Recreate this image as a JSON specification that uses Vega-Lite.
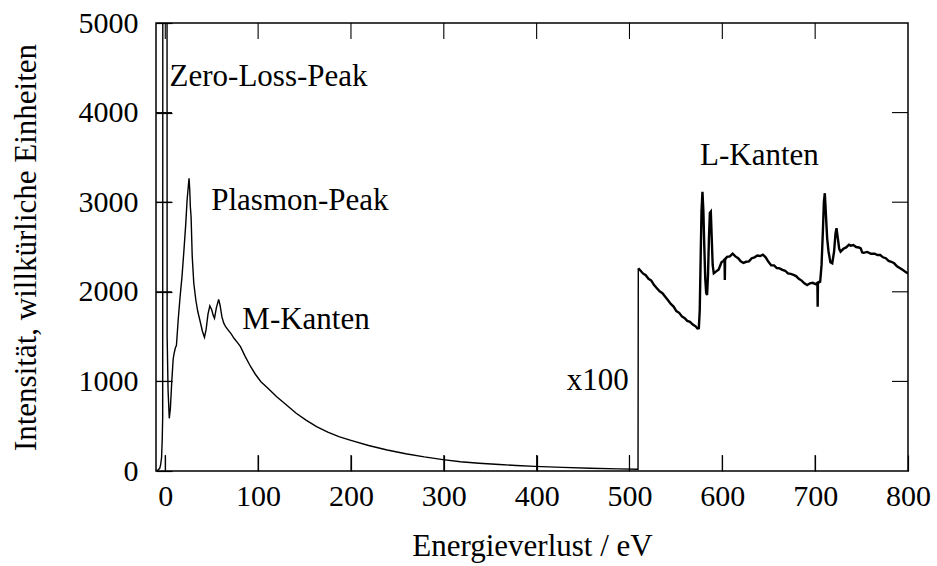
{
  "$schema": "https://vega.github.io/schema/vega-lite/v6.json",
  "autosize": {"type": "none"},
  "padding": {"left": 156, "top": 23, "right": 29, "bottom": 95},
  "width": 752,
  "height": 448,
  "background": "white",
  "config": {
    "view": {"stroke": "black", "strokeWidth": 1.5},
    "font": "Liberation Serif",
    "axis": {
      "grid": false,
      "domain": false,
      "labelFlush": false,
      "labelOverlap": false,
      "labelColor": "black",
      "labelFont": "Liberation Serif",
      "labelFontSize": 30,
      "titleFont": "Liberation Serif",
      "titleFontSize": 31,
      "titleFontWeight": "normal",
      "titleColor": "black"
    }
  },
  "datasets": {
    "spectrum": [
      {"e": -10, "i": 3, "part": "low"},
      {"e": -8, "i": 10, "part": "low"},
      {"e": -6, "i": 30, "part": "low"},
      {"e": -5, "i": 70, "part": "low"},
      {"e": -4, "i": 150, "part": "low"},
      {"e": -3.3, "i": 350, "part": "low"},
      {"e": -2.8, "i": 600, "part": "low"},
      {"e": -0.5, "i": 80000, "part": "low"},
      {"e": 2.0, "i": 1500, "part": "low"},
      {"e": 3.0, "i": 900, "part": "low"},
      {"e": 4.3, "i": 588, "part": "low"},
      {"e": 5.5, "i": 700, "part": "low"},
      {"e": 7, "i": 1000, "part": "low"},
      {"e": 8.5, "i": 1250, "part": "low"},
      {"e": 9.5, "i": 1313, "part": "low"},
      {"e": 11, "i": 1380, "part": "low"},
      {"e": 12, "i": 1400, "part": "low"},
      {"e": 14, "i": 1700, "part": "low"},
      {"e": 16, "i": 1950, "part": "low"},
      {"e": 18, "i": 2169, "part": "low"},
      {"e": 20, "i": 2450, "part": "low"},
      {"e": 22, "i": 2750, "part": "low"},
      {"e": 23.5, "i": 3025, "part": "low"},
      {"e": 25, "i": 3200, "part": "low"},
      {"e": 25.6, "i": 3266, "part": "low"},
      {"e": 26.3, "i": 3150, "part": "low"},
      {"e": 27, "i": 2950, "part": "low"},
      {"e": 27.8, "i": 2838, "part": "low"},
      {"e": 29, "i": 2400, "part": "low"},
      {"e": 30.7, "i": 2095, "part": "low"},
      {"e": 33, "i": 1900, "part": "low"},
      {"e": 35, "i": 1780, "part": "low"},
      {"e": 37.2, "i": 1685, "part": "low"},
      {"e": 40, "i": 1560, "part": "low"},
      {"e": 42.2, "i": 1492, "part": "low"},
      {"e": 44, "i": 1580, "part": "low"},
      {"e": 46, "i": 1750, "part": "low"},
      {"e": 48, "i": 1842, "part": "low"},
      {"e": 50, "i": 1800, "part": "low"},
      {"e": 51.5, "i": 1740, "part": "low"},
      {"e": 53, "i": 1704, "part": "low"},
      {"e": 55, "i": 1820, "part": "low"},
      {"e": 57.5, "i": 1916, "part": "low"},
      {"e": 59, "i": 1850, "part": "low"},
      {"e": 61, "i": 1720, "part": "low"},
      {"e": 63, "i": 1650, "part": "low"},
      {"e": 65, "i": 1610, "part": "low"},
      {"e": 68, "i": 1570, "part": "low"},
      {"e": 71, "i": 1530, "part": "low"},
      {"e": 74, "i": 1481, "part": "low"},
      {"e": 78, "i": 1430, "part": "low"},
      {"e": 81, "i": 1388, "part": "low"},
      {"e": 86, "i": 1280, "part": "low"},
      {"e": 92, "i": 1164, "part": "low"},
      {"e": 97, "i": 1080, "part": "low"},
      {"e": 103, "i": 997, "part": "low"},
      {"e": 110, "i": 930, "part": "low"},
      {"e": 120, "i": 829, "part": "low"},
      {"e": 129, "i": 750, "part": "low"},
      {"e": 141, "i": 644, "part": "low"},
      {"e": 152, "i": 565, "part": "low"},
      {"e": 163, "i": 495, "part": "low"},
      {"e": 175, "i": 435, "part": "low"},
      {"e": 187, "i": 383, "part": "low"},
      {"e": 199, "i": 345, "part": "low"},
      {"e": 219, "i": 285, "part": "low"},
      {"e": 239, "i": 235, "part": "low"},
      {"e": 259, "i": 192, "part": "low"},
      {"e": 279, "i": 157, "part": "low"},
      {"e": 299, "i": 127, "part": "low"},
      {"e": 318, "i": 104, "part": "low"},
      {"e": 338, "i": 87, "part": "low"},
      {"e": 360, "i": 72, "part": "low"},
      {"e": 378, "i": 61, "part": "low"},
      {"e": 398, "i": 52, "part": "low"},
      {"e": 428, "i": 40, "part": "low"},
      {"e": 458, "i": 31, "part": "low"},
      {"e": 488, "i": 24, "part": "low"},
      {"e": 509.2, "i": 20, "part": "low"},
      {"e": 509.5, "i": 2262, "part": "low"},
      {"e": 509.5, "i": 2262, "part": "x100"},
      {"e": 511.5, "i": 2240, "part": "x100"},
      {"e": 514.5, "i": 2205, "part": "x100"},
      {"e": 517.5, "i": 2185, "part": "x100"},
      {"e": 520.5, "i": 2145, "part": "x100"},
      {"e": 523.5, "i": 2125, "part": "x100"},
      {"e": 526.5, "i": 2075, "part": "x100"},
      {"e": 529.5, "i": 2040, "part": "x100"},
      {"e": 532.5, "i": 2005, "part": "x100"},
      {"e": 535.5, "i": 1985, "part": "x100"},
      {"e": 538.5, "i": 1945, "part": "x100"},
      {"e": 541.5, "i": 1905, "part": "x100"},
      {"e": 544.5, "i": 1865, "part": "x100"},
      {"e": 547.5, "i": 1835, "part": "x100"},
      {"e": 550.5, "i": 1785, "part": "x100"},
      {"e": 553.5, "i": 1765, "part": "x100"},
      {"e": 556.5, "i": 1725, "part": "x100"},
      {"e": 559.5, "i": 1705, "part": "x100"},
      {"e": 562.2, "i": 1675, "part": "x100"},
      {"e": 565.2, "i": 1665, "part": "x100"},
      {"e": 568.2, "i": 1635, "part": "x100"},
      {"e": 571.2, "i": 1615, "part": "x100"},
      {"e": 573.2, "i": 1590, "part": "x100"},
      {"e": 574.7, "i": 1593, "part": "x100"},
      {"e": 575.7, "i": 1800, "part": "x100"},
      {"e": 576.7, "i": 2400, "part": "x100"},
      {"e": 577.6, "i": 2900, "part": "x100"},
      {"e": 578.6, "i": 3117, "part": "x100"},
      {"e": 579.6, "i": 2900, "part": "x100"},
      {"e": 580.6, "i": 2500, "part": "x100"},
      {"e": 581.6, "i": 2150, "part": "x100"},
      {"e": 582.6, "i": 1990, "part": "x100"},
      {"e": 583.6, "i": 1964, "part": "x100"},
      {"e": 584.6, "i": 2200, "part": "x100"},
      {"e": 585.6, "i": 2600, "part": "x100"},
      {"e": 586.6, "i": 2880, "part": "x100"},
      {"e": 587.6, "i": 2894, "part": "x100"},
      {"e": 588.6, "i": 2600, "part": "x100"},
      {"e": 589.6, "i": 2300, "part": "x100"},
      {"e": 590.8, "i": 2206, "part": "x100"},
      {"e": 593.1, "i": 2225, "part": "x100"},
      {"e": 596.1, "i": 2250, "part": "x100"},
      {"e": 599.1, "i": 2330, "part": "x100"},
      {"e": 601.1, "i": 2345, "part": "x100"},
      {"e": 602.4, "i": 2360, "part": "x100"},
      {"e": 602.7, "i": 2132, "part": "x100"},
      {"e": 603.0, "i": 2360, "part": "x100"},
      {"e": 605.1, "i": 2390, "part": "x100"},
      {"e": 608.1, "i": 2395, "part": "x100"},
      {"e": 611.1, "i": 2425, "part": "x100"},
      {"e": 614.1, "i": 2395, "part": "x100"},
      {"e": 617.1, "i": 2375, "part": "x100"},
      {"e": 619.8, "i": 2340, "part": "x100"},
      {"e": 622.7, "i": 2322, "part": "x100"},
      {"e": 625.7, "i": 2335, "part": "x100"},
      {"e": 628.7, "i": 2340, "part": "x100"},
      {"e": 631.7, "i": 2375, "part": "x100"},
      {"e": 634.7, "i": 2385, "part": "x100"},
      {"e": 637.7, "i": 2405, "part": "x100"},
      {"e": 640.7, "i": 2400, "part": "x100"},
      {"e": 643.7, "i": 2415, "part": "x100"},
      {"e": 646.7, "i": 2385, "part": "x100"},
      {"e": 649.7, "i": 2335, "part": "x100"},
      {"e": 652.7, "i": 2295, "part": "x100"},
      {"e": 655.7, "i": 2295, "part": "x100"},
      {"e": 658.7, "i": 2265, "part": "x100"},
      {"e": 661.7, "i": 2262, "part": "x100"},
      {"e": 664.7, "i": 2245, "part": "x100"},
      {"e": 667.7, "i": 2235, "part": "x100"},
      {"e": 670.7, "i": 2205, "part": "x100"},
      {"e": 673.7, "i": 2200, "part": "x100"},
      {"e": 676.7, "i": 2188, "part": "x100"},
      {"e": 679.4, "i": 2175, "part": "x100"},
      {"e": 682.4, "i": 2145, "part": "x100"},
      {"e": 685.4, "i": 2125, "part": "x100"},
      {"e": 688.4, "i": 2095, "part": "x100"},
      {"e": 691.4, "i": 2076, "part": "x100"},
      {"e": 694.4, "i": 2095, "part": "x100"},
      {"e": 697.4, "i": 2100, "part": "x100"},
      {"e": 700.4, "i": 2085, "part": "x100"},
      {"e": 702.4, "i": 2100, "part": "x100"},
      {"e": 702.7, "i": 1834, "part": "x100"},
      {"e": 703.0, "i": 2100, "part": "x100"},
      {"e": 705.4, "i": 2113, "part": "x100"},
      {"e": 706.9, "i": 2300, "part": "x100"},
      {"e": 708.4, "i": 2700, "part": "x100"},
      {"e": 709.4, "i": 3000, "part": "x100"},
      {"e": 710.4, "i": 3100, "part": "x100"},
      {"e": 711.4, "i": 2900, "part": "x100"},
      {"e": 712.9, "i": 2600, "part": "x100"},
      {"e": 714.4, "i": 2450, "part": "x100"},
      {"e": 716.4, "i": 2330, "part": "x100"},
      {"e": 718.4, "i": 2318, "part": "x100"},
      {"e": 720.4, "i": 2450, "part": "x100"},
      {"e": 721.9, "i": 2650, "part": "x100"},
      {"e": 723.0, "i": 2709, "part": "x100"},
      {"e": 724.4, "i": 2600, "part": "x100"},
      {"e": 725.9, "i": 2480, "part": "x100"},
      {"e": 727.4, "i": 2448, "part": "x100"},
      {"e": 730.4, "i": 2480, "part": "x100"},
      {"e": 733.4, "i": 2495, "part": "x100"},
      {"e": 736.4, "i": 2525, "part": "x100"},
      {"e": 738.1, "i": 2515, "part": "x100"},
      {"e": 741.1, "i": 2522, "part": "x100"},
      {"e": 744.1, "i": 2500, "part": "x100"},
      {"e": 747.1, "i": 2495, "part": "x100"},
      {"e": 749.1, "i": 2485, "part": "x100"},
      {"e": 750.6, "i": 2440, "part": "x100"},
      {"e": 752.1, "i": 2435, "part": "x100"},
      {"e": 756.1, "i": 2445, "part": "x100"},
      {"e": 760.1, "i": 2425, "part": "x100"},
      {"e": 764.1, "i": 2425, "part": "x100"},
      {"e": 767.1, "i": 2410, "part": "x100"},
      {"e": 770.1, "i": 2411, "part": "x100"},
      {"e": 773.1, "i": 2385, "part": "x100"},
      {"e": 776.1, "i": 2375, "part": "x100"},
      {"e": 779.1, "i": 2345, "part": "x100"},
      {"e": 782.1, "i": 2335, "part": "x100"},
      {"e": 785.1, "i": 2318, "part": "x100"},
      {"e": 788.1, "i": 2285, "part": "x100"},
      {"e": 791.1, "i": 2265, "part": "x100"},
      {"e": 794.1, "i": 2245, "part": "x100"},
      {"e": 797.1, "i": 2225, "part": "x100"},
      {"e": 800, "i": 2205, "part": "x100"}
    ],
    "notes": [
      {"e": 4.6, "i": 4297, "text": "Zero-Loss-Peak", "side": "left"},
      {"e": 49.5, "i": 2913, "text": "Plasmon-Peak", "side": "left"},
      {"e": 83, "i": 1585, "text": "M-Kanten", "side": "left"},
      {"e": 499.3, "i": 904, "text": "x100", "side": "right"},
      {"e": 640, "i": 3415, "text": "L-Kanten", "side": "center"}
    ],
    "ticks": [
      {"id": "b0", "e": 0, "i": 0}, {"id": "b0", "e": 0, "i": 179},
      {"id": "b100", "e": 100, "i": 0}, {"id": "b100", "e": 100, "i": 179},
      {"id": "b200", "e": 200, "i": 0}, {"id": "b200", "e": 200, "i": 179},
      {"id": "b300", "e": 300, "i": 0}, {"id": "b300", "e": 300, "i": 179},
      {"id": "b400", "e": 400, "i": 0}, {"id": "b400", "e": 400, "i": 179},
      {"id": "b500", "e": 500, "i": 0}, {"id": "b500", "e": 500, "i": 179},
      {"id": "b600", "e": 600, "i": 0}, {"id": "b600", "e": 600, "i": 179},
      {"id": "b700", "e": 700, "i": 0}, {"id": "b700", "e": 700, "i": 179},
      {"id": "t0", "e": 0, "i": 5000}, {"id": "t0", "e": 0, "i": 4821},
      {"id": "t100", "e": 100, "i": 5000}, {"id": "t100", "e": 100, "i": 4821},
      {"id": "t200", "e": 200, "i": 5000}, {"id": "t200", "e": 200, "i": 4821},
      {"id": "t300", "e": 300, "i": 5000}, {"id": "t300", "e": 300, "i": 4821},
      {"id": "t400", "e": 400, "i": 5000}, {"id": "t400", "e": 400, "i": 4821},
      {"id": "t500", "e": 500, "i": 5000}, {"id": "t500", "e": 500, "i": 4821},
      {"id": "t600", "e": 600, "i": 5000}, {"id": "t600", "e": 600, "i": 4821},
      {"id": "t700", "e": 700, "i": 5000}, {"id": "t700", "e": 700, "i": 4821},
      {"id": "l1000", "e": -10, "i": 1000}, {"id": "l1000", "e": 7.2, "i": 1000},
      {"id": "l2000", "e": -10, "i": 2000}, {"id": "l2000", "e": 7.2, "i": 2000},
      {"id": "l3000", "e": -10, "i": 3000}, {"id": "l3000", "e": 7.2, "i": 3000},
      {"id": "l4000", "e": -10, "i": 4000}, {"id": "l4000", "e": 7.2, "i": 4000},
      {"id": "r1000", "e": 782.8, "i": 1000}, {"id": "r1000", "e": 800, "i": 1000},
      {"id": "r2000", "e": 782.8, "i": 2000}, {"id": "r2000", "e": 800, "i": 2000},
      {"id": "r3000", "e": 782.8, "i": 3000}, {"id": "r3000", "e": 800, "i": 3000},
      {"id": "r4000", "e": 782.8, "i": 4000}, {"id": "r4000", "e": 800, "i": 4000}
    ]
  },
  "layer": [
    {
      "data": {"name": "spectrum"},
      "transform": [{"filter": "datum.part === 'low'"}],
      "mark": {"type": "line", "color": "black", "strokeWidth": 1.4, "clip": true},
      "encoding": {
        "x": {
          "field": "e", "type": "quantitative",
          "scale": {"domain": [-10, 800], "nice": false, "zero": false},
          "axis": {"orient": "bottom", "values": [0, 100, 200, 300, 400, 500, 600, 700, 800], "ticks": true, "tickSize": 16, "tickWidth": 1.2, "tickColor": "#000000", "offset": -16, "labelPadding": 10, "title": "Energieverlust / eV", "titlePadding": 20}
        },
        "y": {
          "field": "i", "type": "quantitative",
          "scale": {"domain": [0, 5000], "nice": false},
          "axis": {"orient": "left", "values": [0, 1000, 2000, 3000, 4000, 5000], "format": "d", "ticks": true, "tickSize": 16, "tickWidth": 1.2, "tickColor": "#000000", "offset": -16, "labelPadding": 18, "title": "Intensität, willkürliche Einheiten", "titlePadding": 36}
        },
        "order": {"field": "e", "type": "quantitative"}
      }
    },
    {
      "data": {"name": "spectrum"},
      "transform": [{"filter": "datum.part === 'x100'"}],
      "mark": {"type": "line", "color": "black", "strokeWidth": 2.4, "clip": true},
      "encoding": {
        "x": {"field": "e", "type": "quantitative", "axis": null},
        "y": {"field": "i", "type": "quantitative", "axis": null},
        "order": {"field": "e", "type": "quantitative"}
      }
    },
    {
      "data": {"name": "ticks"},
      "mark": {"type": "line", "color": "black", "strokeWidth": 1.1},
      "encoding": {
        "x": {"field": "e", "type": "quantitative", "axis": null},
        "y": {"field": "i", "type": "quantitative", "axis": null},
        "detail": {"field": "id"},
        "order": {"value": null}
      }
    },
    {
      "data": {"name": "notes"},
      "transform": [{"filter": "datum.side === 'left'"}],
      "mark": {"type": "text", "align": "left", "baseline": "alphabetic", "font": "Liberation Serif", "fontSize": 31, "color": "black"},
      "encoding": {
        "x": {"field": "e", "type": "quantitative", "axis": null},
        "y": {"field": "i", "type": "quantitative", "axis": null},
        "text": {"field": "text"}
      }
    },
    {
      "data": {"name": "notes"},
      "transform": [{"filter": "datum.side === 'right'"}],
      "mark": {"type": "text", "align": "right", "baseline": "alphabetic", "font": "Liberation Serif", "fontSize": 31, "color": "black"},
      "encoding": {
        "x": {"field": "e", "type": "quantitative", "axis": null},
        "y": {"field": "i", "type": "quantitative", "axis": null},
        "text": {"field": "text"}
      }
    },
    {
      "data": {"name": "notes"},
      "transform": [{"filter": "datum.side === 'center'"}],
      "mark": {"type": "text", "align": "center", "baseline": "alphabetic", "font": "Liberation Serif", "fontSize": 31, "color": "black"},
      "encoding": {
        "x": {"field": "e", "type": "quantitative", "axis": null},
        "y": {"field": "i", "type": "quantitative", "axis": null},
        "text": {"field": "text"}
      }
    }
  ],
  "resolve": {"axis": {"x": "independent", "y": "independent"}}
}
